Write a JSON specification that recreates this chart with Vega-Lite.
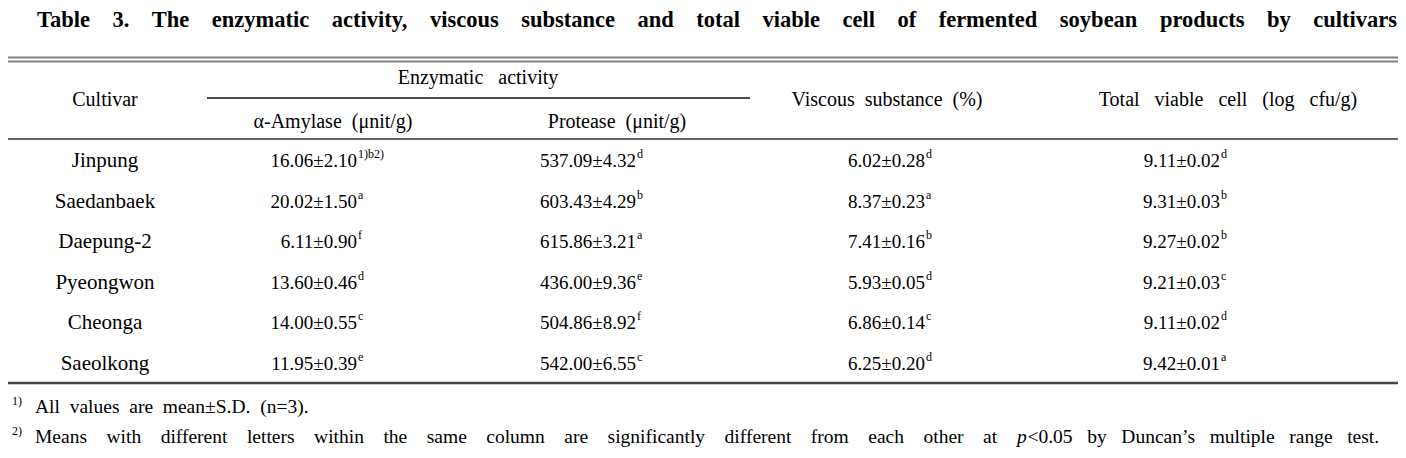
{
  "$schema": "https://vega.github.io/schema/vega-lite/v6.json",
  "width": 1406,
  "height": 458,
  "padding": 0,
  "autosize": {"type": "fit", "contains": "padding"},
  "background": "white",
  "config": {"view": {"stroke": null}, "text": {"font": "Liberation Serif", "color": "#000"}},
  "resolve": {"scale": {"x": "independent", "y": "independent"}},
  "data": {"values": [{}]},
  "datasets": {
    "rows": [
      {"cultivar": "Jinpung", "amylase": "16.06±2.10", "amylase_sig": "1)b2)", "protease": "537.09±4.32", "protease_sig": "d", "viscous": "6.02±0.28", "viscous_sig": "d", "viable": "9.11±0.02", "viable_sig": "d"},
      {"cultivar": "Saedanbaek", "amylase": "20.02±1.50", "amylase_sig": "a", "protease": "603.43±4.29", "protease_sig": "b", "viscous": "8.37±0.23", "viscous_sig": "a", "viable": "9.31±0.03", "viable_sig": "b"},
      {"cultivar": "Daepung-2", "amylase": "6.11±0.90", "amylase_sig": "f", "protease": "615.86±3.21", "protease_sig": "a", "viscous": "7.41±0.16", "viscous_sig": "b", "viable": "9.27±0.02", "viable_sig": "b"},
      {"cultivar": "Pyeongwon", "amylase": "13.60±0.46", "amylase_sig": "d", "protease": "436.00±9.36", "protease_sig": "e", "viscous": "5.93±0.05", "viscous_sig": "d", "viable": "9.21±0.03", "viable_sig": "c"},
      {"cultivar": "Cheonga", "amylase": "14.00±0.55", "amylase_sig": "c", "protease": "504.86±8.92", "protease_sig": "f", "viscous": "6.86±0.14", "viscous_sig": "c", "viable": "9.11±0.02", "viable_sig": "d"},
      {"cultivar": "Saeolkong", "amylase": "11.95±0.39", "amylase_sig": "e", "protease": "542.00±6.55", "protease_sig": "c", "viscous": "6.25±0.20", "viscous_sig": "d", "viable": "9.42±0.01", "viable_sig": "a"}
    ],
    "headers": [
      {"label": "Cultivar", "col": 1, "lvl": 5},
      {"label": "Enzymatic \u00a0\u00a0activity", "col": 2.5, "lvl": 3},
      {"label": "α-Amylase \u00a0(μnit/g)", "col": 2, "lvl": 6},
      {"label": "Protease \u00a0(μnit/g)", "col": 3, "lvl": 6},
      {"label": "Viscous \u00a0substance \u00a0(%)", "col": 4, "lvl": 5},
      {"label": "Total \u00a0\u00a0viable \u00a0\u00a0cell \u00a0\u00a0(log \u00a0\u00a0cfu/g)", "col": 5, "lvl": 5}
    ]
  },
  "layer": [
    {"mark": {"type": "text", "fontSize": 22.5, "fontWeight": "bold", "align": "center", "baseline": "middle", "dx": 100, "text": "Table \u00a0\u00a0\u00a03. \u00a0\u00a0\u00a0The \u00a0\u00a0\u00a0enzymatic \u00a0\u00a0\u00a0activity, \u00a0\u00a0\u00a0viscous \u00a0\u00a0\u00a0substance \u00a0\u00a0\u00a0and \u00a0\u00a0\u00a0total \u00a0\u00a0\u00a0viable \u00a0\u00a0\u00a0cell \u00a0\u00a0\u00a0of \u00a0\u00a0\u00a0fermented \u00a0\u00a0\u00a0soybean \u00a0\u00a0\u00a0products \u00a0\u00a0\u00a0by \u00a0\u00a0\u00a0cultivars"},
     "encoding": {"x": {"datum": 3, "type": "quantitative", "scale": {"type": "linear", "domain": [0, 1, 1.5, 2, 2.5, 3, 3.5, 4, 5, 6], "range": [8, 105, 207, 333, 478, 617, 750, 887, 1228, 1398], "zero": false, "nice": false}, "axis": null},
                  "y": {"datum": 0, "type": "quantitative", "scale": {"type": "linear", "domain": [0, 1, 2, 3, 4, 5, 6, 7, 8, 9, 10], "range": [20, 57.5, 61.5, 78, 98, 100, 122, 139, 383, 407, 437], "zero": false, "nice": false}, "axis": null}}},
    {"mark": {"type": "rule", "stroke": "#808080", "strokeWidth": 2},
     "encoding": {"x": {"datum": 0, "type": "quantitative", "scale": {"type": "linear", "domain": [0, 1, 1.5, 2, 2.5, 3, 3.5, 4, 5, 6], "range": [8, 105, 207, 333, 478, 617, 750, 887, 1228, 1398], "zero": false, "nice": false}, "axis": null}, "x2": {"datum": 6},
                  "y": {"datum": 1, "type": "quantitative", "scale": {"type": "linear", "domain": [0, 1, 2, 3, 4, 5, 6, 7, 8, 9, 10], "range": [20, 57.5, 61.5, 78, 98, 100, 122, 139, 383, 407, 437], "zero": false, "nice": false}, "axis": null}}},
    {"mark": {"type": "rule", "stroke": "#808080", "strokeWidth": 2},
     "encoding": {"x": {"datum": 0, "type": "quantitative", "scale": {"type": "linear", "domain": [0, 1, 1.5, 2, 2.5, 3, 3.5, 4, 5, 6], "range": [8, 105, 207, 333, 478, 617, 750, 887, 1228, 1398], "zero": false, "nice": false}, "axis": null}, "x2": {"datum": 6},
                  "y": {"datum": 2, "type": "quantitative", "scale": {"type": "linear", "domain": [0, 1, 2, 3, 4, 5, 6, 7, 8, 9, 10], "range": [20, 57.5, 61.5, 78, 98, 100, 122, 139, 383, 407, 437], "zero": false, "nice": false}, "axis": null}}},
    {"mark": {"type": "rule", "stroke": "#111111", "strokeWidth": 1.5},
     "encoding": {"x": {"datum": 1.5, "type": "quantitative", "scale": {"type": "linear", "domain": [0, 1, 1.5, 2, 2.5, 3, 3.5, 4, 5, 6], "range": [8, 105, 207, 333, 478, 617, 750, 887, 1228, 1398], "zero": false, "nice": false}, "axis": null}, "x2": {"datum": 3.5},
                  "y": {"datum": 4, "type": "quantitative", "scale": {"type": "linear", "domain": [0, 1, 2, 3, 4, 5, 6, 7, 8, 9, 10], "range": [20, 57.5, 61.5, 78, 98, 100, 122, 139, 383, 407, 437], "zero": false, "nice": false}, "axis": null}}},
    {"mark": {"type": "rule", "stroke": "#666666", "strokeWidth": 2},
     "encoding": {"x": {"datum": 0, "type": "quantitative", "scale": {"type": "linear", "domain": [0, 1, 1.5, 2, 2.5, 3, 3.5, 4, 5, 6], "range": [8, 105, 207, 333, 478, 617, 750, 887, 1228, 1398], "zero": false, "nice": false}, "axis": null}, "x2": {"datum": 6},
                  "y": {"datum": 7, "type": "quantitative", "scale": {"type": "linear", "domain": [0, 1, 2, 3, 4, 5, 6, 7, 8, 9, 10], "range": [20, 57.5, 61.5, 78, 98, 100, 122, 139, 383, 407, 437], "zero": false, "nice": false}, "axis": null}}},
    {"mark": {"type": "rule", "stroke": "#444444", "strokeWidth": 2.5},
     "encoding": {"x": {"datum": 0, "type": "quantitative", "scale": {"type": "linear", "domain": [0, 1, 1.5, 2, 2.5, 3, 3.5, 4, 5, 6], "range": [8, 105, 207, 333, 478, 617, 750, 887, 1228, 1398], "zero": false, "nice": false}, "axis": null}, "x2": {"datum": 6},
                  "y": {"datum": 8, "type": "quantitative", "scale": {"type": "linear", "domain": [0, 1, 2, 3, 4, 5, 6, 7, 8, 9, 10], "range": [20, 57.5, 61.5, 78, 98, 100, 122, 139, 383, 407, 437], "zero": false, "nice": false}, "axis": null}}},
    {"data": {"name": "headers"},
     "mark": {"type": "text", "fontSize": 20, "align": "center", "baseline": "middle"},
     "encoding": {"x": {"field": "col", "type": "quantitative", "scale": {"type": "linear", "domain": [0, 1, 1.5, 2, 2.5, 3, 3.5, 4, 5, 6], "range": [8, 105, 207, 333, 478, 617, 750, 887, 1228, 1398], "zero": false, "nice": false}, "axis": null},
                  "y": {"field": "lvl", "type": "quantitative", "scale": {"type": "linear", "domain": [0, 1, 2, 3, 4, 5, 6, 7, 8, 9, 10], "range": [20, 57.5, 61.5, 78, 98, 100, 122, 139, 383, 407, 437], "zero": false, "nice": false}, "axis": null},
                  "text": {"field": "label"}}},
    {"data": {"name": "rows"},
     "mark": {"type": "text", "fontSize": 21, "align": "center", "baseline": "middle"},
     "encoding": {"x": {"datum": 1, "type": "quantitative", "scale": {"type": "linear", "domain": [0, 1, 1.5, 2, 2.5, 3, 3.5, 4, 5, 6], "range": [8, 105, 207, 333, 478, 617, 750, 887, 1228, 1398], "zero": false, "nice": false}, "axis": null},
                  "y": {"field": "cultivar", "type": "nominal", "scale": {"type": "point", "domain": ["Jinpung", "Saedanbaek", "Daepung-2", "Pyeongwon", "Cheonga", "Saeolkong"], "range": [161, 364], "padding": 0}, "axis": null},
                  "text": {"field": "cultivar"}}},
    {"data": {"name": "rows"},
     "mark": {"type": "text", "fontSize": 19, "align": "right", "baseline": "middle", "dx": 24},
     "encoding": {"x": {"datum": 2, "type": "quantitative", "scale": {"type": "linear", "domain": [0, 1, 1.5, 2, 2.5, 3, 3.5, 4, 5, 6], "range": [8, 105, 207, 333, 478, 617, 750, 887, 1228, 1398], "zero": false, "nice": false}, "axis": null},
                  "y": {"field": "cultivar", "type": "nominal", "scale": {"type": "point", "domain": ["Jinpung", "Saedanbaek", "Daepung-2", "Pyeongwon", "Cheonga", "Saeolkong"], "range": [161, 364], "padding": 0}, "axis": null},
                  "text": {"field": "amylase"}}},
    {"data": {"name": "rows"},
     "mark": {"type": "text", "fontSize": 12, "align": "left", "baseline": "middle", "dx": 25, "dy": -7},
     "encoding": {"x": {"datum": 2, "type": "quantitative", "scale": {"type": "linear", "domain": [0, 1, 1.5, 2, 2.5, 3, 3.5, 4, 5, 6], "range": [8, 105, 207, 333, 478, 617, 750, 887, 1228, 1398], "zero": false, "nice": false}, "axis": null},
                  "y": {"field": "cultivar", "type": "nominal", "scale": {"type": "point", "domain": ["Jinpung", "Saedanbaek", "Daepung-2", "Pyeongwon", "Cheonga", "Saeolkong"], "range": [161, 364], "padding": 0}, "axis": null},
                  "text": {"field": "amylase_sig"}}},
    {"data": {"name": "rows"},
     "mark": {"type": "text", "fontSize": 19, "align": "right", "baseline": "middle", "dx": 19},
     "encoding": {"x": {"datum": 3, "type": "quantitative", "scale": {"type": "linear", "domain": [0, 1, 1.5, 2, 2.5, 3, 3.5, 4, 5, 6], "range": [8, 105, 207, 333, 478, 617, 750, 887, 1228, 1398], "zero": false, "nice": false}, "axis": null},
                  "y": {"field": "cultivar", "type": "nominal", "scale": {"type": "point", "domain": ["Jinpung", "Saedanbaek", "Daepung-2", "Pyeongwon", "Cheonga", "Saeolkong"], "range": [161, 364], "padding": 0}, "axis": null},
                  "text": {"field": "protease"}}},
    {"data": {"name": "rows"},
     "mark": {"type": "text", "fontSize": 12, "align": "left", "baseline": "middle", "dx": 20, "dy": -7},
     "encoding": {"x": {"datum": 3, "type": "quantitative", "scale": {"type": "linear", "domain": [0, 1, 1.5, 2, 2.5, 3, 3.5, 4, 5, 6], "range": [8, 105, 207, 333, 478, 617, 750, 887, 1228, 1398], "zero": false, "nice": false}, "axis": null},
                  "y": {"field": "cultivar", "type": "nominal", "scale": {"type": "point", "domain": ["Jinpung", "Saedanbaek", "Daepung-2", "Pyeongwon", "Cheonga", "Saeolkong"], "range": [161, 364], "padding": 0}, "axis": null},
                  "text": {"field": "protease_sig"}}},
    {"data": {"name": "rows"},
     "mark": {"type": "text", "fontSize": 19, "align": "right", "baseline": "middle", "dx": 38},
     "encoding": {"x": {"datum": 4, "type": "quantitative", "scale": {"type": "linear", "domain": [0, 1, 1.5, 2, 2.5, 3, 3.5, 4, 5, 6], "range": [8, 105, 207, 333, 478, 617, 750, 887, 1228, 1398], "zero": false, "nice": false}, "axis": null},
                  "y": {"field": "cultivar", "type": "nominal", "scale": {"type": "point", "domain": ["Jinpung", "Saedanbaek", "Daepung-2", "Pyeongwon", "Cheonga", "Saeolkong"], "range": [161, 364], "padding": 0}, "axis": null},
                  "text": {"field": "viscous"}}},
    {"data": {"name": "rows"},
     "mark": {"type": "text", "fontSize": 12, "align": "left", "baseline": "middle", "dx": 39, "dy": -7},
     "encoding": {"x": {"datum": 4, "type": "quantitative", "scale": {"type": "linear", "domain": [0, 1, 1.5, 2, 2.5, 3, 3.5, 4, 5, 6], "range": [8, 105, 207, 333, 478, 617, 750, 887, 1228, 1398], "zero": false, "nice": false}, "axis": null},
                  "y": {"field": "cultivar", "type": "nominal", "scale": {"type": "point", "domain": ["Jinpung", "Saedanbaek", "Daepung-2", "Pyeongwon", "Cheonga", "Saeolkong"], "range": [161, 364], "padding": 0}, "axis": null},
                  "text": {"field": "viscous_sig"}}},
    {"data": {"name": "rows"},
     "mark": {"type": "text", "fontSize": 19, "align": "right", "baseline": "middle", "dx": -8},
     "encoding": {"x": {"datum": 5, "type": "quantitative", "scale": {"type": "linear", "domain": [0, 1, 1.5, 2, 2.5, 3, 3.5, 4, 5, 6], "range": [8, 105, 207, 333, 478, 617, 750, 887, 1228, 1398], "zero": false, "nice": false}, "axis": null},
                  "y": {"field": "cultivar", "type": "nominal", "scale": {"type": "point", "domain": ["Jinpung", "Saedanbaek", "Daepung-2", "Pyeongwon", "Cheonga", "Saeolkong"], "range": [161, 364], "padding": 0}, "axis": null},
                  "text": {"field": "viable"}}},
    {"data": {"name": "rows"},
     "mark": {"type": "text", "fontSize": 12, "align": "left", "baseline": "middle", "dx": -7, "dy": -7},
     "encoding": {"x": {"datum": 5, "type": "quantitative", "scale": {"type": "linear", "domain": [0, 1, 1.5, 2, 2.5, 3, 3.5, 4, 5, 6], "range": [8, 105, 207, 333, 478, 617, 750, 887, 1228, 1398], "zero": false, "nice": false}, "axis": null},
                  "y": {"field": "cultivar", "type": "nominal", "scale": {"type": "point", "domain": ["Jinpung", "Saedanbaek", "Daepung-2", "Pyeongwon", "Cheonga", "Saeolkong"], "range": [161, 364], "padding": 0}, "axis": null},
                  "text": {"field": "viable_sig"}}},
    {"mark": {"type": "text", "fontSize": 12, "align": "left", "baseline": "middle", "dx": 4, "dy": -6, "text": "1)"},
     "encoding": {"x": {"datum": 0, "type": "quantitative", "scale": {"type": "linear", "domain": [0, 1, 1.5, 2, 2.5, 3, 3.5, 4, 5, 6], "range": [8, 105, 207, 333, 478, 617, 750, 887, 1228, 1398], "zero": false, "nice": false}, "axis": null},
                  "y": {"datum": 9, "type": "quantitative", "scale": {"type": "linear", "domain": [0, 1, 2, 3, 4, 5, 6, 7, 8, 9, 10], "range": [20, 57.5, 61.5, 78, 98, 100, 122, 139, 383, 407, 437], "zero": false, "nice": false}, "axis": null}}},
    {"mark": {"type": "text", "fontSize": 19.5, "align": "left", "baseline": "middle", "dx": 27, "text": "All \u00a0values \u00a0are \u00a0mean±S.D. \u00a0(n=3)."},
     "encoding": {"x": {"datum": 0, "type": "quantitative", "scale": {"type": "linear", "domain": [0, 1, 1.5, 2, 2.5, 3, 3.5, 4, 5, 6], "range": [8, 105, 207, 333, 478, 617, 750, 887, 1228, 1398], "zero": false, "nice": false}, "axis": null},
                  "y": {"datum": 9, "type": "quantitative", "scale": {"type": "linear", "domain": [0, 1, 2, 3, 4, 5, 6, 7, 8, 9, 10], "range": [20, 57.5, 61.5, 78, 98, 100, 122, 139, 383, 407, 437], "zero": false, "nice": false}, "axis": null}}},
    {"mark": {"type": "text", "fontSize": 12, "align": "left", "baseline": "middle", "dx": 4, "dy": -6, "text": "2)"},
     "encoding": {"x": {"datum": 0, "type": "quantitative", "scale": {"type": "linear", "domain": [0, 1, 1.5, 2, 2.5, 3, 3.5, 4, 5, 6], "range": [8, 105, 207, 333, 478, 617, 750, 887, 1228, 1398], "zero": false, "nice": false}, "axis": null},
                  "y": {"datum": 10, "type": "quantitative", "scale": {"type": "linear", "domain": [0, 1, 2, 3, 4, 5, 6, 7, 8, 9, 10], "range": [20, 57.5, 61.5, 78, 98, 100, 122, 139, 383, 407, 437], "zero": false, "nice": false}, "axis": null}}},
    {"mark": {"type": "text", "fontSize": 19.5, "align": "left", "baseline": "middle", "dx": 27, "text": "Means \u00a0\u00a0\u00a0with \u00a0\u00a0\u00a0different \u00a0\u00a0\u00a0letters \u00a0\u00a0\u00a0within \u00a0\u00a0\u00a0the \u00a0\u00a0\u00a0same \u00a0\u00a0\u00a0column \u00a0\u00a0\u00a0are \u00a0\u00a0\u00a0significantly \u00a0\u00a0\u00a0different \u00a0\u00a0\u00a0from \u00a0\u00a0\u00a0each \u00a0\u00a0\u00a0other \u00a0\u00a0\u00a0at"},
     "encoding": {"x": {"datum": 0, "type": "quantitative", "scale": {"type": "linear", "domain": [0, 1, 1.5, 2, 2.5, 3, 3.5, 4, 5, 6], "range": [8, 105, 207, 333, 478, 617, 750, 887, 1228, 1398], "zero": false, "nice": false}, "axis": null},
                  "y": {"datum": 10, "type": "quantitative", "scale": {"type": "linear", "domain": [0, 1, 2, 3, 4, 5, 6, 7, 8, 9, 10], "range": [20, 57.5, 61.5, 78, 98, 100, 122, 139, 383, 407, 437], "zero": false, "nice": false}, "axis": null}}},
    {"mark": {"type": "text", "fontSize": 19.5, "fontStyle": "italic", "align": "left", "baseline": "middle", "dx": -381, "text": "p"},
     "encoding": {"x": {"datum": 6, "type": "quantitative", "scale": {"type": "linear", "domain": [0, 1, 1.5, 2, 2.5, 3, 3.5, 4, 5, 6], "range": [8, 105, 207, 333, 478, 617, 750, 887, 1228, 1398], "zero": false, "nice": false}, "axis": null},
                  "y": {"datum": 10, "type": "quantitative", "scale": {"type": "linear", "domain": [0, 1, 2, 3, 4, 5, 6, 7, 8, 9, 10], "range": [20, 57.5, 61.5, 78, 98, 100, 122, 139, 383, 407, 437], "zero": false, "nice": false}, "axis": null}}},
    {"mark": {"type": "text", "fontSize": 19.5, "align": "left", "baseline": "middle", "dx": -370.5, "text": "<0.05 \u00a0\u00a0by \u00a0\u00a0Duncan’s \u00a0\u00a0multiple \u00a0\u00a0range \u00a0\u00a0test."},
     "encoding": {"x": {"datum": 6, "type": "quantitative", "scale": {"type": "linear", "domain": [0, 1, 1.5, 2, 2.5, 3, 3.5, 4, 5, 6], "range": [8, 105, 207, 333, 478, 617, 750, 887, 1228, 1398], "zero": false, "nice": false}, "axis": null},
                  "y": {"datum": 10, "type": "quantitative", "scale": {"type": "linear", "domain": [0, 1, 2, 3, 4, 5, 6, 7, 8, 9, 10], "range": [20, 57.5, 61.5, 78, 98, 100, 122, 139, 383, 407, 437], "zero": false, "nice": false}, "axis": null}}}
  ]
}
